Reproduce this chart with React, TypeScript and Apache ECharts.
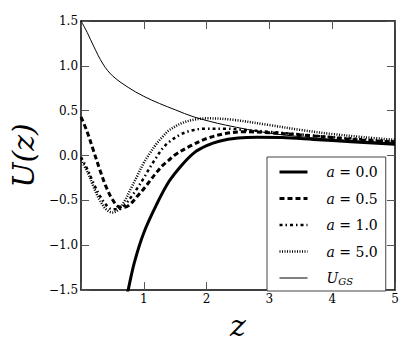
import React, { useEffect, useRef } from "react";
import * as echarts from "echarts";

const zGS = [0, 0.1, 0.2, 0.35, 0.5, 0.75, 1.0, 1.25, 1.5, 1.8, 2.3, 3.0, 3.5, 4.0, 4.5, 5.0];
const uGS = [1.5, 1.37, 1.22, 1.02, 0.89, 0.76, 0.66, 0.58, 0.51, 0.43, 0.34, 0.25, 0.21, 0.18, 0.16, 0.14];

const zA0 = [0.7, 0.75, 0.85, 1.0, 1.2, 1.4, 1.6, 1.8, 2.0, 2.2, 2.5, 2.8, 3.2, 3.7, 4.3, 5.0];
const uA0 = [-1.67, -1.5, -1.19, -0.86, -0.55, -0.29, -0.11, 0.03, 0.11, 0.16, 0.195, 0.205, 0.2, 0.18, 0.155, 0.125];

const zA05 = [0, 0.1, 0.2, 0.3, 0.4, 0.5, 0.6, 0.7, 0.8, 0.9, 1.0, 1.1, 1.2, 1.3, 1.4, 1.5, 1.75, 2.0, 2.3, 2.6, 3.0, 3.5, 4.0, 4.5, 5.0];
const uA05 = [0.43, 0.26, 0.05, -0.16, -0.35, -0.49, -0.57, -0.575, -0.53, -0.45, -0.37, -0.28, -0.19, -0.11, -0.05, 0.01, 0.11, 0.19, 0.245, 0.265, 0.255, 0.23, 0.2, 0.17, 0.15];

const zA1 = [0, 0.1, 0.2, 0.3, 0.4, 0.5, 0.6, 0.7, 0.8, 0.9, 1.0, 1.1, 1.2, 1.3, 1.4, 1.6, 1.8, 2.0, 2.3, 2.6, 3.0, 3.5, 4.0, 4.5, 5.0];
const uA1 = [-0.02, -0.15, -0.31, -0.45, -0.55, -0.6, -0.6, -0.55, -0.46, -0.36, -0.25, -0.13, -0.02, 0.08, 0.15, 0.24, 0.285, 0.3, 0.3, 0.285, 0.265, 0.235, 0.205, 0.18, 0.155];

const zA5 = [0, 0.1, 0.2, 0.3, 0.4, 0.5, 0.6, 0.7, 0.8, 0.9, 1.0, 1.1, 1.2, 1.3, 1.4, 1.6, 1.8, 2.0, 2.4, 3.0, 3.5, 4.0, 4.5, 5.0];
const uA5 = [-0.05, -0.18, -0.35, -0.5, -0.6, -0.635, -0.6, -0.5, -0.36, -0.22, -0.08, 0.03, 0.13, 0.21, 0.28, 0.36, 0.4, 0.415, 0.4, 0.34, 0.285, 0.24, 0.205, 0.175];

const seriesNames = ["a = 0.0", "a = 0.5", "a = 1.0", "a = 5.0", "U_GS"];
const xTicks = { min: 0, max: 5, interval: 1 };
const yTicks = { min: -1.5, max: 1.5, interval: 0.5 };

const FONT = "DejaVu Serif";

const zip = (xs: number[], ys: number[]) => xs.map((x, i) => [x, ys[i]]);

export default function App() {
  const ref = useRef<HTMLDivElement>(null);
  useEffect(() => {
    if (!ref.current) return;
    const chart = echarts.init(ref.current, null, { renderer: "svg" });
    const axisLine = { show: true, onZero: false, lineStyle: { color: "#000", width: 1.5 } };
    const axisTick = { show: true, inside: true, length: 8, lineStyle: { color: "#555", width: 1 } };
    const labelStyle = { fontFamily: FONT, fontSize: 12, color: "#000" };
    const legendLabel = (name: string) => {
      if (name === "U_GS") return "{sp| }{i|U}{sub|GS}";
      const val = name.split("=")[1].trim();
      return "{sp| }{i|a} = " + val;
    };
    const baseLine = (name: string, data: number[][], width: number, type: any) => ({
      name,
      type: "line",
      data,
      symbol: "none",
      smooth: 0.35,
      clip: true,
      xAxisIndex: 0,
      yAxisIndex: 0,
      lineStyle: { color: "#000", width, type, cap: "butt" },
      itemStyle: { color: "#000" },
      z: 3,
    });
    chart.setOption({
      animation: false,
      backgroundColor: "#fff",
      grid: { left: 81, right: 20, top: 21, bottom: 46, containLabel: false },
      xAxis: [
        {
          type: "value",
          ...xTicks,
          position: "bottom",
          axisLine,
          axisTick,
          splitLine: { show: false },
          axisLabel: {
            ...labelStyle,
            margin: 3,
            formatter: (v: number) => (v === 0 ? "" : String(v)),
          },
          name: "z",
          nameLocation: "middle",
          nameGap: 1,
          nameTextStyle: { fontFamily: FONT, fontStyle: "italic", fontSize: 30, lineHeight: 17, color: "#000" },
        },
        {
          type: "value",
          ...xTicks,
          position: "top",
          axisLine,
          axisTick,
          splitLine: { show: false },
          axisLabel: { show: false },
        },
      ],
      yAxis: [
        {
          type: "value",
          ...yTicks,
          position: "left",
          axisLine,
          axisTick,
          splitLine: { show: false },
          axisLabel: {
            ...labelStyle,
            margin: 3,
            formatter: (v: number) => v.toFixed(1).replace("-", "\u2212"),
          },
          name: "U(z)",
          nameLocation: "middle",
          nameRotate: 90,
          nameGap: 36,
          nameTextStyle: { fontFamily: FONT, fontStyle: "italic", fontSize: 30, color: "#000" },
        },
        {
          type: "value",
          ...yTicks,
          position: "right",
          axisLine,
          axisTick,
          splitLine: { show: false },
          axisLabel: { show: false },
        },
      ],
      legend: {
        orient: "vertical",
        left: 267,
        top: 157,
        padding: [7, 8, 5, 11],
        itemGap: 10.5,
        itemWidth: 28,
        itemHeight: 16,
        backgroundColor: "#fff",
        borderColor: "#444",
        borderWidth: 1,
        borderRadius: 0,
        data: seriesNames,
        formatter: legendLabel,
        itemStyle: { opacity: 0, borderWidth: 0 },
        lineStyle: { width: "inherit" },
        textStyle: {
          fontFamily: FONT,
          fontSize: 14,
          lineHeight: 16,
          color: "#000",
          rich: {
            sp: { width: 14 },
            i: { fontFamily: FONT, fontStyle: "italic", fontSize: 14, lineHeight: 16 },
            sub: { fontFamily: FONT, fontStyle: "italic", fontSize: 10, lineHeight: 6, verticalAlign: "bottom" },
          },
        },
        z: 10,
      },
      series: [
        baseLine(seriesNames[0], zip(zA0, uA0), 3, "solid"),
        baseLine(seriesNames[1], zip(zA05, uA05), 3, [5, 3]),
        baseLine(seriesNames[2], zip(zA1, uA1), 2.5, [3, 3, 1.5, 3]),
        baseLine(seriesNames[3], zip(zA5, uA5), 2.5, [1, 1.5]),
        baseLine(seriesNames[4], zip(zGS, uGS), 1, "solid"),
      ],
    });
    return () => chart.dispose();
  }, []);
  return (
    <div
      ref={ref}
      style={{ position: "fixed", left: 0, top: 0, width: 415, height: 345, background: "#fff" }}
    />
  );
}
